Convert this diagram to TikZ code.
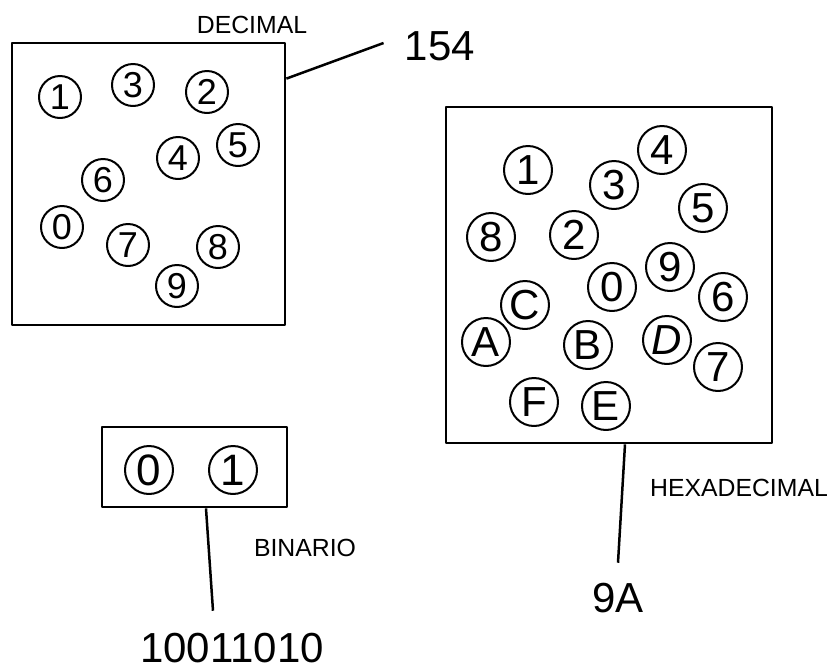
\documentclass[tikz,border=0pt]{standalone}
\usepackage{fontspec}
\setmainfont{Liberation Sans}
\usepackage{tikz}
\usetikzlibrary{positioning}

\begin{document}
\begin{tikzpicture}[x=0.5pt, y=-0.5pt, line join=round,
          caja/.style={draw, rectangle, line width=1.4pt, inner sep=0pt},
          cifra/.style={draw, circle, line width=1pt, inner sep=0pt, minimum size=21pt,
                        font=\fontsize{18}{18}\selectfont},
          cifrah/.style={cifra, minimum size=24pt, font=\fontsize{21}{21}\selectfont},
          cifrab/.style={cifra, minimum size=24pt, font=\fontsize{22}{22}\selectfont},
          etiq/.style={inner sep=0pt, font=\fontsize{12.4}{12.4}\selectfont},
          num/.style={inner sep=0pt, font=\fontsize{21}{21}\selectfont},
          guia/.style={line width=1.25pt}
        ]
        \useasboundingbox (0,0) rectangle (827,670);

        % cajas
        \node[caja, minimum width=136.5pt, minimum height=141pt] (dec) at (148.5,184) {};
        \node[caja, minimum width=163pt, minimum height=168pt]   (hex) at (609,275) {};
        \node[caja, minimum width=92.5pt, minimum height=40pt]   (bin) at (194.5,467) {};

        % rotulos
        \node[etiq] (tdec) at (252,25)  {DECIMAL};
        \node[etiq] (thex) at (739,488) {HEXADECIMAL};
        \node[etiq] (tbin) at (305,548) {BINARIO};
        \node[num]  (n154) at (440,46)  {154};
        \node[num]  (n9A)  at (618,598) {9A};
        \node[num]  (nbin) at (232,648) {10011010};

        % base 10
        \node[cifra] (d1) at (60,97)   {1};
        \node[cifra] (d3) at (133,85)  {3};
        \node[cifra] (d2) at (207,92)  {2};
        \node[cifra] (d5) at (238,145) {5};
        \node[cifra] (d4) at (178,158) {4};
        \node[cifra] (d6) at (103,180) {6};
        \node[cifra] (d0) at (62,227)  {0};
        \node[cifra] (d7) at (128,245) {7};
        \node[cifra] (d8) at (218,247) {8};
        \node[cifra] (d9) at (177,286) {9};

        % base 16
        \node[cifrah] (h1) at (528,170) {1};
        \node[cifrah] (h4) at (662,150) {4};
        \node[cifrah] (h3) at (614,185) {3};
        \node[cifrah] (h5) at (703,208) {5};
        \node[cifrah] (h8) at (491,237) {8};
        \node[cifrah] (h2) at (574,235) {2};
        \node[cifrah] (h9) at (670,267) {9};
        \node[cifrah] (h0) at (612,287) {0};
        \node[cifrah] (h6) at (723,297) {6};
        \node[cifrah] (hC) at (525,305) {C};
        \node[cifrah] (hA) at (486,342) {A};
        \node[cifrah] (hB) at (588,345) {B};
        \node[cifrah] (hD) at (667,340) {\itshape D};
        \node[cifrah] (h7) at (718,367) {7};
        \node[cifrah] (hF) at (534,402) {F};
        \node[cifrah] (hE) at (606,406) {E};

        % base 2
        \node[cifrab] (b0) at (149,470) {0};
        \node[cifrab] (b1) at (233,470) {1};

        % lineas de referencia
        \draw[guia] ([yshift=-18.5pt]dec.north east) -- ([xshift=-10.5pt,yshift=1.5pt]n154.west);
        \draw[guia] ([xshift=8pt]hex.south) -- ([yshift=10pt]n9A.north);
        \draw[guia] ([xshift=5.75pt]bin.south) -- ([xshift=-9.5pt,yshift=11pt]nbin.north);
      \end{tikzpicture}
\end{document}
